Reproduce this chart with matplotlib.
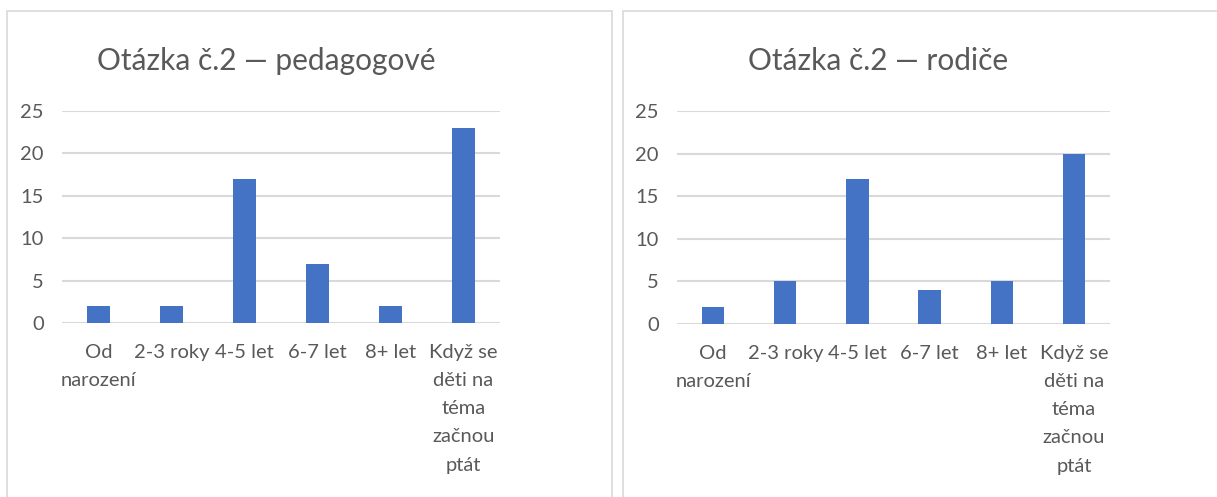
import matplotlib
matplotlib.use("Agg")
import matplotlib.pyplot as plt
import matplotlib.patches as mpatches
import numpy as np

# data
kategorie = ["Od\nnarození", "2-3 roky", "4-5 let", "6-7 let", "8+ let",
             "Když se\nděti na\ntéma\nzačnou\nptát"]
pedagogove = [2, 2, 17, 7, 2, 23]
rodice = [2, 5, 17, 4, 5, 20]
tituly = ["Otázka č.2 — pedagogové", "Otázka č.2 — rodiče"]
y_ticks = [0, 5, 10, 15, 20, 25]

W, H = 1217, 497
plt.rcParams['font.family'] = ['Lato', 'DejaVu Sans']
fig = plt.figure(figsize=(W / 100, H / 100), dpi=100)

sediva = "#595959"
mrizka = "#d9d9d9"
modra = "#4472c4"


def px(x0, y0, x1, y1):
    # pixel box (top-left origin) -> figure fraction rect
    return [x0 / W, 1 - y1 / H, (x1 - x0) / W, (y1 - y0) / H]


# chart borders
for (bx0, bx1) in [(7, 612), (623, 1230)]:
    r = mpatches.Rectangle((bx0 / W, -0.05), (bx1 - bx0) / W, 1.05 - 11 / H,
                           transform=fig.transFigure, fill=False,
                           ec=mrizka, lw=1.2)
    fig.patches.append(r)

boxy = [px(62, 111, 500, 323), px(677, 111, 1110, 324)]
stredy = [266, 878]

for box, hodnoty, titul, sx in zip(boxy, [pedagogove, rodice], tituly, stredy):
    ax = fig.add_axes(box)
    x = np.arange(len(kategorie))
    ax.bar(x, hodnoty, width=0.31, color=modra, zorder=3)
    ax.set_xlim(-0.5, len(kategorie) - 0.5)
    ax.set_ylim(0, 25)
    ax.set_yticks(y_ticks)
    ax.yaxis.grid(True, color=mrizka, lw=1.5, zorder=0)
    ax.set_axisbelow(True)
    for s in ax.spines.values():
        s.set_visible(False)
    ax.set_xticks(x)
    ax.set_xticklabels(kategorie, linespacing=1.8)
    ax.tick_params(axis='both', length=0, labelcolor=sediva, labelsize=14.5)
    ax.tick_params(axis='y', pad=13)
    ax.tick_params(axis='x', pad=15)
    ax.set_facecolor('none')
    fig.text(sx / W, 1 - 70 / H, titul, ha='center', va='baseline',
             fontsize=21.5, color=sediva)

fig.savefig("out.png", dpi=100)
